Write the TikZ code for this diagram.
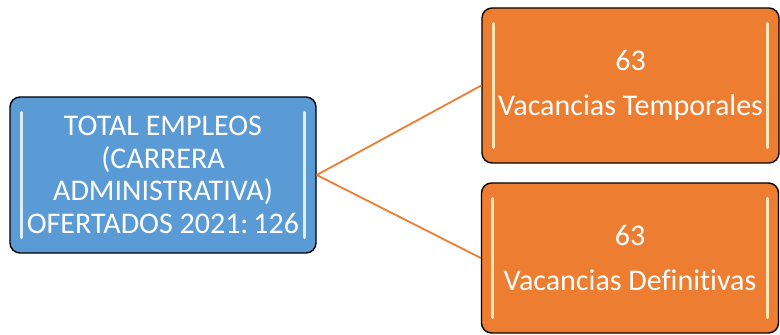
\documentclass[tikz,border=0pt]{standalone}
\usepackage{fontspec}
\setmainfont[Ligatures=CommonOff]{Carlito}
\definecolor{boxblue}{HTML}{5B9BD5}
\definecolor{boxorange}{HTML}{ED7D31}
\definecolor{barblue}{HTML}{DDEEFB}
\definecolor{barorange}{HTML}{FFE6B8}
\begin{document}
\begin{tikzpicture}[x=1pt,y=1pt,
  card/.style={draw=black, line width=1.4pt, rounded corners=10pt, text=white, align=center, inner sep=0pt},
  bluecard/.style={card, fill=boxblue, minimum width=306pt, minimum height=156pt, font=\fontsize{30}{32.5}\selectfont},
  orangecard/.style={card, fill=boxorange, minimum width=297pt, font=\fontsize{30}{45}\selectfont},
  link/.style={draw=boxorange, line width=1.8pt},
  glow/.style={line width=3pt, line cap=round}]
\useasboundingbox (0,0) rectangle (780,335);
\node[bluecard] (L) at (163,160) {TOTAL EMPLEOS\\(CARRERA\\ADMINISTRATIVA)\\OFERTADOS 2021:\,126};
\node[orangecard, minimum height=155pt] (T) at (630.5,249.5) {63\\Vacancias Temporales};
\node[orangecard, minimum height=150pt] (B) at (630,77) {63\\Vacancias Definitivas};
\draw[link] (L.east) -- (T.west);
\draw[link] (L.east) -- (B.west);
\foreach \n/\c in {L/barblue,T/barorange,B/barorange}{
  \draw[glow, \c] ([xshift=12pt,yshift=-16pt]\n.north west) -- ([xshift=12pt,yshift=16pt]\n.south west);
  \draw[glow, \c] ([xshift=-12pt,yshift=-16pt]\n.north east) -- ([xshift=-12pt,yshift=16pt]\n.south east);
}
\end{tikzpicture}
\end{document}
